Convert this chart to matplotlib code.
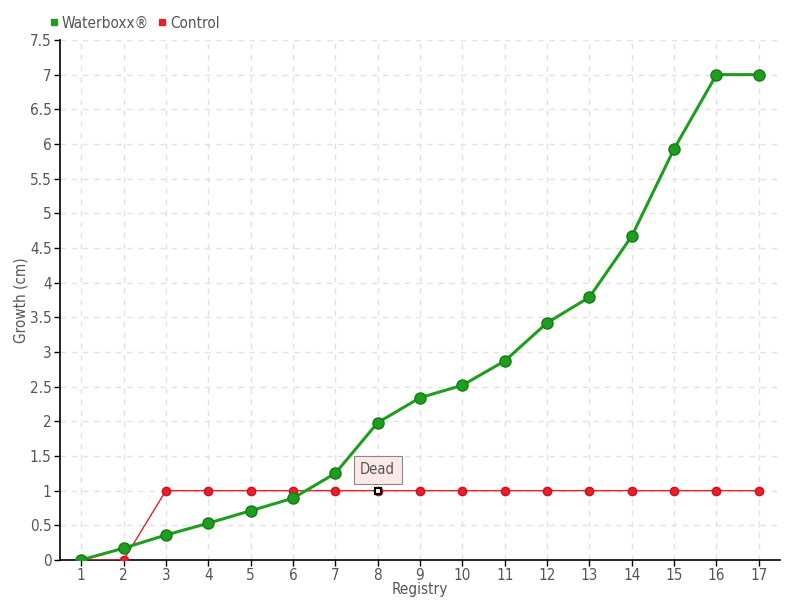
import matplotlib
matplotlib.use('Agg')
import matplotlib.pyplot as plt
from matplotlib.lines import Line2D
import numpy as np

registry = list(range(1, 18))
waterboxx = [0, 0.17, 0.36, 0.53, 0.71, 0.89, 1.25, 1.98, 2.34, 2.52, 2.87, 3.42, 3.79, 4.67, 5.93, 7.0, 7.0]
control = [0, 0, 1, 1, 1, 1, 1, 1, 1, 1, 1, 1, 1, 1, 1, 1, 1]
dead_idx = 7  # registry 8
y_ticks = np.arange(0, 7.51, 0.5)

plt.rcParams['font.family'] = ['DejaVu Sans']
plt.rcParams['font.stretch'] = 'condensed'
text_col = '#555555'
green = '#1e9e1e'
red = '#e8202a'

fig = plt.figure(figsize=(8, 6), dpi=100)
ax = fig.add_axes([0.075, 0.0667, 0.9, 0.8667])

ax.plot(registry, control, color=red, lw=1, marker='o', ms=6,
        mfc=red, mec='#d01020', zorder=3)
ax.plot(registry[dead_idx], control[dead_idx], marker='s', ms=4.5, mfc='white',
        mec='black', mew=1.5, zorder=5)
ax.plot(registry, waterboxx, color=green, lw=2.2, marker='o', ms=8,
        mfc=green, mec='#167a16', zorder=4)

ax.annotate('Dead', xy=(registry[dead_idx], control[dead_idx]), xytext=(0, 15),
            textcoords='offset points', ha='center', va='center', fontsize=10.5,
            color=text_col,
            bbox=dict(boxstyle='square,pad=0.45', fc='#fde8e8', ec='#888888', lw=0.8),
            zorder=6)

ax.set_xlim(0.5, 17.5)
ax.set_ylim(0, 7.5)
ax.set_xticks(registry)
ax.set_yticks(y_ticks)
ax.set_yticklabels(['{:g}'.format(v) for v in y_ticks])
ax.grid(True, color='#e2e2e2', ls=(0, (4, 4)), lw=1)
ax.set_axisbelow(True)
for s in ['top', 'right']:
    ax.spines[s].set_visible(False)
ax.spines['left'].set_linewidth(1.2)
ax.spines['bottom'].set_linewidth(1.2)
ax.tick_params(labelsize=11, labelcolor=text_col, length=4, width=1, pad=2)
ax.set_xlabel('Registry', fontsize=11, color=text_col, labelpad=-1)
ax.set_ylabel('Growth (cm)', fontsize=11, color=text_col, labelpad=1)

handles = [Line2D([], [], ls='none', marker='s', ms=5, color=green),
           Line2D([], [], ls='none', marker='s', ms=5, color=red)]
leg = ax.legend(handles, ['Waterboxx\u00ae', 'Control'], loc='lower left',
                bbox_to_anchor=(-0.028, 1.0), ncol=2, frameon=False, fontsize=11,
                handlelength=0.6, handletextpad=0.2, columnspacing=0.6,
                borderaxespad=0.2)
for t in leg.get_texts():
    t.set_color(text_col)

fig.savefig('out.png', dpi=100)
